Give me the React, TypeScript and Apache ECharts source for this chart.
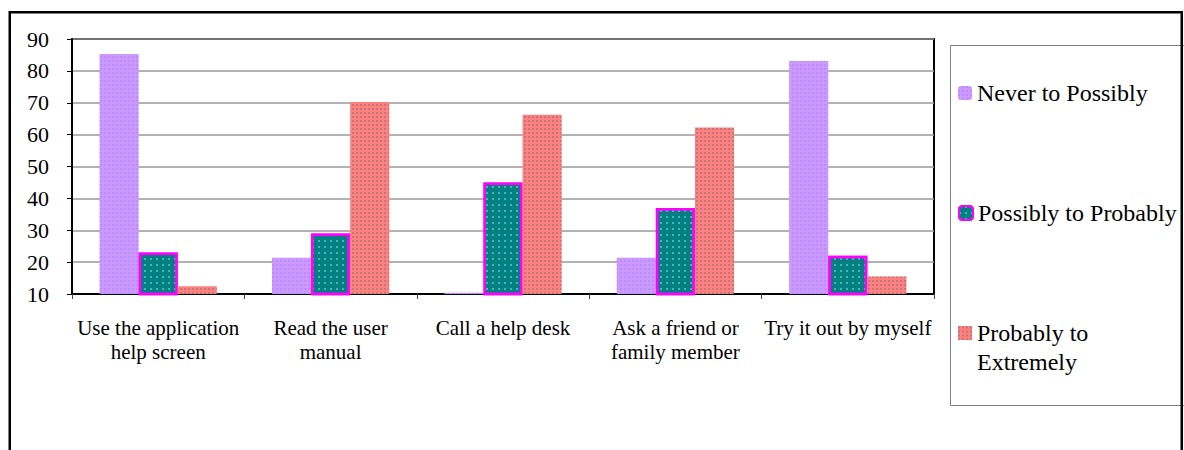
import React, { useEffect, useRef } from "react";
import * as echarts from "echarts";

// Survey answers: how likely respondents are to use each source of help
const categories = [
  "Use the application\nhelp screen",
  "Read the user\nmanual",
  "Call a help desk",
  "Ask a friend or\nfamily member",
  "Try it out by myself",
];
const seriesNames = ["Never to Possibly", "Possibly to Probably", "Probably to Extremely"];
const neverToPossibly = [85.3, 21.4, 10.4, 21.4, 83.1];
const possiblyToProbably = [23, 29, 45, 37, 22];
const probablyToExtremely = [12.4, 70.2, 66.2, 62.2, 15.5];
const yTicks = { min: 10, max: 90, interval: 10 };

const FONT = '"Liberation Serif", "Times New Roman", serif';

export default function App() {
  const ref = useRef<HTMLDivElement>(null);

  useEffect(() => {
    if (!ref.current) return;
    const chart = echarts.init(ref.current, undefined, { renderer: "svg" });

    const legendBase = {
      orient: "vertical" as const,
      left: 958,
      padding: 0,
      itemWidth: 14,
      itemHeight: 14,
      itemGap: 0,
      selectedMode: false,
      textStyle: { fontFamily: FONT, fontSize: 24, lineHeight: 29, color: "#000" },
    };

    chart.setOption({
      animation: false,
      backgroundColor: "#fff",
      grid: {
        left: 72,
        top: 39,
        right: 250,
        bottom: 156,
        show: true,
        borderColor: "#000",
        borderWidth: 2,
        containLabel: false,
      },
      xAxis: {
        type: "category",
        data: categories,
        axisLine: { lineStyle: { color: "#000", width: 2 } },
        axisTick: { show: true, length: 5, lineStyle: { color: "#444", width: 1 } },
        axisLabel: {
          interval: 0,
          fontFamily: FONT,
          fontSize: 21,
          lineHeight: 24,
          color: "#000",
          margin: 22,
        },
      },
      yAxis: {
        type: "value",
        min: yTicks.min,
        max: yTicks.max,
        interval: yTicks.interval,
        axisLine: { show: true, lineStyle: { color: "#000", width: 2 } },
        axisTick: { show: true, length: 5, lineStyle: { color: "#000", width: 1 } },
        axisLabel: { fontFamily: FONT, fontSize: 22, color: "#000", margin: 23 },
        splitLine: { show: true, lineStyle: { color: "#999", width: 1.5 } },
      },
      legend: [
        { ...legendBase, top: 78.5, data: [seriesNames[0]] },
        { ...legendBase, top: 198.5, data: [seriesNames[1]] },
        {
          ...legendBase,
          top: 318.5,
          itemHeight: 58,
          data: [
            {
              name: seriesNames[2],
              icon: "path://M0,0M0,7.5h14v14h-14zM0,58",
            },
          ],
          formatter: () => "Probably to\nExtremely",
        },
      ],
      graphic: [
        {
          type: "rect",
          z: -1,
          shape: { x: 950.5, y: 45.5, width: 240, height: 360 },
          style: { fill: "#fff", stroke: "#808080", lineWidth: 1 },
        },
        {
          type: "rect",
          z: 100,
          silent: true,
          shape: { x: 9.75, y: 12.25, width: 1172, height: 520 },
          style: { fill: "none", stroke: "#000", lineWidth: 2.5 },
        },
      ],
      series: [
        {
          name: seriesNames[0],
          type: "bar",
          data: neverToPossibly,
          barGap: "0%",
          barCategoryGap: "32%",
          clip: true,
          itemStyle: {
            color: "#CC99FF",
            decal: {
              symbol: "circle",
              symbolSize: 0.9,
              color: "rgba(150,110,255,0.45)",
              dashArrayX: [2, 2],
              dashArrayY: [2, 2],
            },
          },
        },
        {
          name: seriesNames[1],
          type: "bar",
          data: possiblyToProbably,
          barGap: "0%",
          barCategoryGap: "32%",
          clip: true,
          itemStyle: {
            color: "#008080",
            borderColor: "#FF00FF",
            borderWidth: 2.5,
            decal: {
              symbol: "circle",
              symbolSize: 0.9,
              color: "rgba(190,255,255,0.55)",
              dashArrayX: [2, 4],
              dashArrayY: [2, 4],
            },
          },
        },
        {
          name: seriesNames[2],
          type: "bar",
          data: probablyToExtremely,
          barGap: "0%",
          barCategoryGap: "32%",
          clip: true,
          itemStyle: {
            color: "#FF8080",
            decal: {
              symbol: "circle",
              symbolSize: 0.9,
              color: "rgba(90,100,100,0.5)",
              dashArrayX: [2, 2],
              dashArrayY: [2, 2],
            },
          },
        },
      ],
    });

    return () => chart.dispose();
  }, []);

  return (
    <div
      ref={ref}
      style={{ position: "absolute", left: 0, top: 0, width: 1184, height: 450 }}
    />
  );
}
